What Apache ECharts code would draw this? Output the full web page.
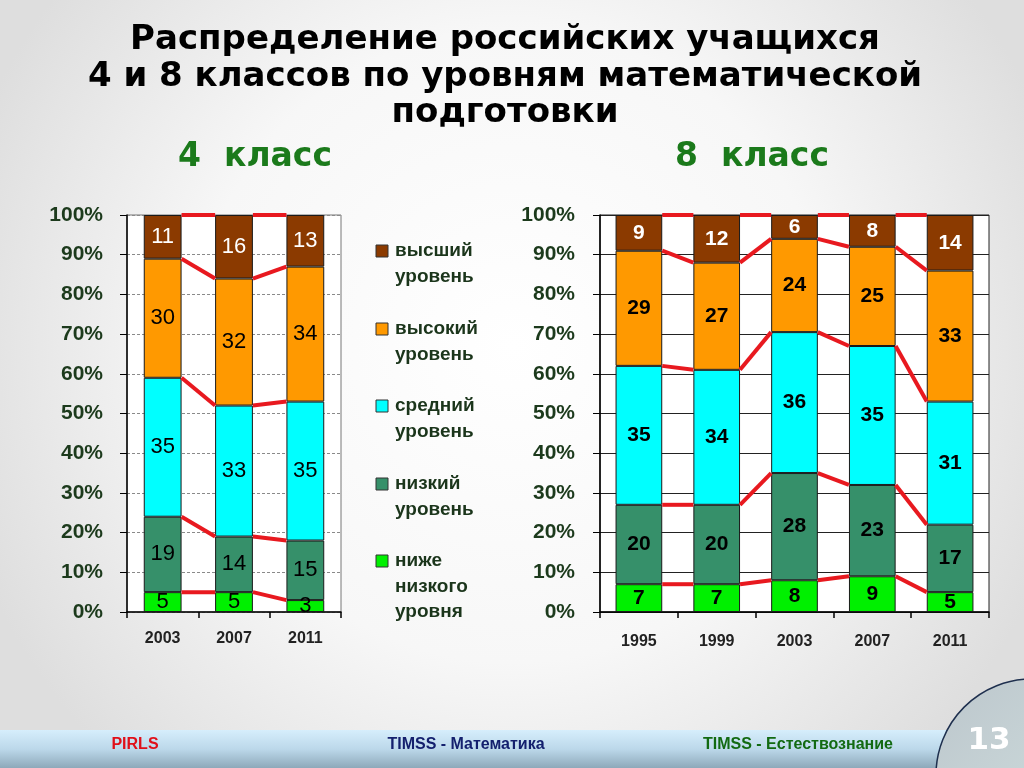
<!DOCTYPE html>
<html><head><meta charset="utf-8">
<script src="https://cdn.jsdelivr.net/npm/echarts@6/dist/echarts.min.js"></script>
<style>html,body{margin:0;padding:0;width:1024px;height:768px;overflow:hidden}#c{width:1024px;height:768px}</style>
</head><body><div id="c"></div>
<script>
// ---- data ----
const titleLines = ['Распределение российских учащихся', '4 и 8 классов по уровням математической', 'подготовки'];
const panelTitles = ['4  класс', '8  класс'];
const levelNames = ['ниже низкого уровня', 'низкий уровень', 'средний уровень', 'высокий уровень', 'высший уровень'];
const legendLabels = [['высший', 'уровень'], ['высокий', 'уровень'], ['средний', 'уровень'], ['низкий', 'уровень'], ['ниже', 'низкого', 'уровня']];
const footerLabels = ['PIRLS', 'TIMSS - Математика', 'TIMSS - Естествознание'];
const pageNumber = '13';

const g4Years = ['2003', '2007', '2011'];
const g4BelowLow = [5, 5, 3];
const g4Low = [19, 14, 15];
const g4Mid = [35, 33, 35];
const g4High = [30, 32, 34];
const g4Top = [11, 16, 13];

const g8Years = ['1995', '1999', '2003', '2007', '2011'];
// printed labels
const g8BelowLow = [7, 7, 8, 9, 5];
const g8Low = [20, 20, 28, 23, 17];
const g8Mid = [35, 34, 36, 35, 31];
const g8High = [29, 27, 24, 25, 33];
const g8Top = [9, 12, 6, 8, 14];
// bar heights as drawn (2003 labels sum to 102)
const g8BelowLowH = [7, 7, 8, 9, 5];
const g8LowH = [20, 20, 27, 23, 17];
const g8MidH = [35, 34, 35.5, 35, 31];
const g8HighH = [29, 27, 23.5, 25, 33];
const g8TopH = [9, 12, 6, 8, 14];

const yTicks = { min: 0, max: 100, interval: 10 };

// ---- styling ----
const levelColors = ['#00f000', '#36906a', '#00ffff', '#ff9900', '#8b3a00'];
const labelColors = ['#000', '#000', '#000', '#000', '#fff'];
const sans = "'Liberation Sans', Arial, sans-serif";
const wide = "'DejaVu Sans', 'Liberation Sans', sans-serif";
const axisTextColor = '#1c3a1c';

const g4Heights = [g4BelowLow, g4Low, g4Mid, g4High, g4Top];
const g4Labels = [g4BelowLow, g4Low, g4Mid, g4High, g4Top];
const g8Heights = [g8BelowLowH, g8LowH, g8MidH, g8HighH, g8TopH];
const g8Labels = [g8BelowLow, g8Low, g8Mid, g8High, g8Top];

const ratios = [0.53, 0.60];

function cumLevels(heights) {
  const n = heights[0].length;
  const res = [];
  let acc = new Array(n).fill(0);
  heights.forEach(h => {
    acc = acc.map((v, i) => v + h[i]);
    res.push(acc.slice());
  });
  return res;
}

function buildSeries(heights, labels, axisIdx, bold, ratio) {
  const out = [];
  heights.forEach((h, k) => {
    out.push({
      type: 'bar', name: levelNames[k], xAxisIndex: axisIdx, yAxisIndex: axisIdx,
      stack: 's' + axisIdx, barWidth: (ratio * 100) + '%', data: h,
      itemStyle: { color: levelColors[k], borderColor: '#1a1a1a', borderWidth: 1 },
      label: {
        show: true, position: 'inside', color: labelColors[k],
        fontFamily: sans, fontSize: bold ? 21 : 22, fontWeight: bold ? 'bold' : 'normal',
        formatter: p => String(labels[k][p.dataIndex])
      },
      z: 2
    });
  });
  const cums = cumLevels(heights);
  const segs = [];
  cums.forEach(c => {
    for (let i = 0; i < c.length - 1; i++) segs.push([i, c[i], c[i + 1]]);
  });
  out.push({
    type: 'custom', xAxisIndex: axisIdx, yAxisIndex: axisIdx, z: 5,
    data: segs, encode: { x: 0, y: [1, 2] }, silent: true,
    renderItem: function (params, api) {
      const i = api.value(0), a = api.value(1), b = api.value(2);
      const p1 = api.coord([i, a]);
      const p2 = api.coord([i + 1, b]);
      const half = api.size([1, 0])[0] * ratio / 2;
      return { type: 'line', shape: { x1: p1[0] + half, y1: p1[1], x2: p2[0] - half, y2: p2[1] },
        style: { stroke: '#e8191f', lineWidth: 4, lineCap: 'butt' } };
    }
  });
  return out;
}

const graphics = [];
const titleY = [40, 77, 113];
titleLines.forEach((t, i) => graphics.push({
  type: 'text', x: 505, y: titleY[i],
  style: { text: t, font: 'bold 34px ' + wide, fill: '#000', textAlign: 'center', textVerticalAlign: 'middle' }
}));
const panelX = [255, 752];
panelTitles.forEach((t, i) => graphics.push({
  type: 'text', x: panelX[i], y: 157,
  style: { text: t, font: 'bold 33px ' + wide, fill: '#1b7a1b', textAlign: 'center', textVerticalAlign: 'middle' }
}));
// legend (top-down order)
const legendY = [251, 329, 406, 484, 561];
legendLabels.forEach((lines, j) => {
  const k = levelColors.length - 1 - j;
  graphics.push({
    type: 'rect', shape: { x: 376, y: legendY[j] - 6, width: 12, height: 12 },
    style: { fill: levelColors[k], stroke: '#333', lineWidth: 1 }
  });
  lines.forEach((ln, r) => graphics.push({
    type: 'text', x: 395, y: legendY[j] + r * 25.5,
    style: { text: ln, font: 'bold 19px ' + sans, fill: '#1b351b', textVerticalAlign: 'middle' }
  }));
});
// footer
graphics.push({
  type: 'rect', shape: { x: 0, y: 730, width: 1024, height: 38 }, z: -1,
  style: { fill: { type: 'linear', x: 0, y: 0, x2: 0, y2: 1, colorStops: [{ offset: 0, color: '#d6eefc' }, { offset: 0.5, color: '#bcd8ea' }, { offset: 1, color: '#8ea9ba' }] } }
});
const footerX = [135, 466, 798];
const footerColors = ['#e0101a', '#14206e', '#126a12'];
footerLabels.forEach((t, i) => graphics.push({
  type: 'text', x: footerX[i], y: 745,
  style: { text: t, font: 'bold 16px ' + sans, fill: footerColors[i], textAlign: 'center', textVerticalAlign: 'middle' }
}));
graphics.push({
  type: 'circle', shape: { cx: 1032, cy: 775, r: 96 },
  style: { fill: { type: 'linear', x: 0, y: 0, x2: 1, y2: 1, colorStops: [{ offset: 0, color: '#bcc6cc' }, { offset: 1, color: '#d4e4e2' }] }, stroke: '#1e2f4e', lineWidth: 1.5 }
});
graphics.push({
  type: 'text', x: 989, y: 741,
  style: { text: pageNumber, font: 'bold 31px ' + wide, fill: '#fff', textAlign: 'center', textVerticalAlign: 'middle' }
});

function xAxisCfg(data, idx, margin) {
  return {
    type: 'category', gridIndex: idx, data: data,
    axisLine: { lineStyle: { color: '#000', width: 1.5 } },
    axisTick: { show: true, length: 6, lineStyle: { color: '#000', width: 1.5 } },
    axisLabel: { fontFamily: sans, fontSize: 16, fontWeight: 'bold', color: '#222', margin: margin }
  };
}
function yAxisCfg(idx, dashed, margin) {
  return {
    type: 'value', gridIndex: idx, min: yTicks.min, max: yTicks.max, interval: yTicks.interval,
    axisLine: { show: true, lineStyle: { color: '#000', width: 1.5 } },
    axisTick: { show: true, length: 7, lineStyle: { color: '#000', width: 1 } },
    axisLabel: { formatter: '{value}%', fontFamily: sans, fontSize: 21, fontWeight: 'bold', color: axisTextColor, margin: margin },
    splitLine: { show: true, lineStyle: dashed ? { color: '#8a8a8a', type: [3, 2], width: 1 } : { color: '#222', width: 1 } }
  };
}

const option = {
  backgroundColor: { type: 'radial', x: 0.5, y: 0.45, r: 0.75, colorStops: [{ offset: 0, color: '#ffffff' }, { offset: 0.55, color: '#f7f7f7' }, { offset: 1, color: '#dedede' }] },
  animation: false,
  grid: [
    { left: 127, top: 215, width: 214, height: 397, show: true, backgroundColor: '#ffffff', borderColor: '#777', borderWidth: 1 },
    { left: 600, top: 215, width: 389, height: 397, show: true, backgroundColor: '#ffffff', borderColor: '#222', borderWidth: 1 }
  ],
  xAxis: [xAxisCfg(g4Years, 0, 19), xAxisCfg(g8Years, 1, 22)],
  yAxis: [yAxisCfg(0, true, 24), yAxisCfg(1, false, 25)],
  series: buildSeries(g4Heights, g4Labels, 0, false, ratios[0]).concat(buildSeries(g8Heights, g8Labels, 1, true, ratios[1])),
  graphic: graphics
};
const chart = echarts.init(document.getElementById('c'));
chart.setOption(option);
</script></body></html>
